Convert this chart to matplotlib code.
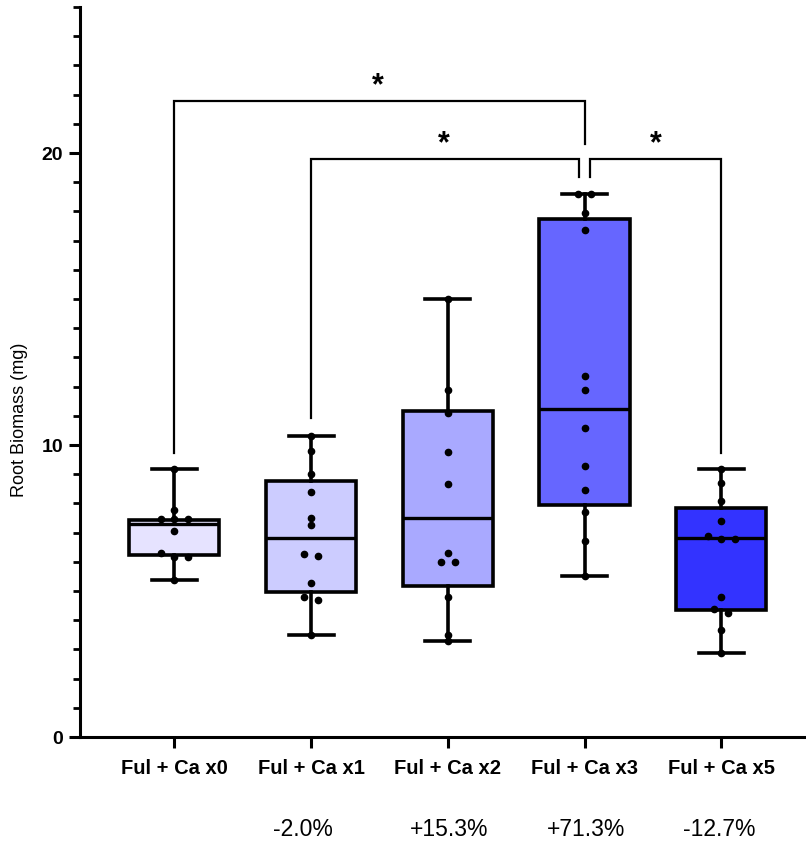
import matplotlib
matplotlib.use("Agg")
import matplotlib.pyplot as plt
import numpy as np
from matplotlib.ticker import MultipleLocator
import matplotlib.transforms as mtransforms

plt.rcParams['font.family'] = ['Liberation Sans', 'DejaVu Sans']

categories = ["Ful + Ca x0", "Ful + Ca x1", "Ful + Ca x2", "Ful + Ca x3", "Ful + Ca x5"]
pct_change = ["", "-2.0%", "+15.3%", "+71.3%", "-12.7%"]
colors = ["#E6E3FF", "#CCCCFF", "#A9A9FF", "#6666FF", "#3333FF"]

# box statistics (min, q1, median, q3, max)
whislo = [5.39, 3.50, 3.29, 5.50, 2.89]
q1 = [6.24, 4.98, 5.16, 7.96, 4.36]
med = [7.30, 6.81, 7.50, 11.24, 6.81]
q3 = [7.44, 8.78, 11.16, 17.74, 7.84]
whishi = [9.19, 10.30, 14.99, 18.59, 9.18]

# individual points
pts_x0 = [9.19, 7.79, 7.48, 7.48, 7.48, 7.07, 6.31, 6.17, 6.17, 5.39]
pts_x1 = [10.30, 9.79, 8.99, 8.38, 7.50, 7.27, 6.28, 6.19, 5.29, 4.81, 4.68, 3.50]
pts_x2 = [14.99, 11.90, 11.10, 9.77, 8.68, 6.29, 5.98, 5.98, 4.81, 3.50, 3.29]
pts_x3 = [18.59, 18.59, 17.96, 17.37, 12.38, 11.88, 10.59, 9.27, 8.47, 7.71, 6.70, 5.50]
pts_x5 = [9.18, 8.70, 8.07, 7.39, 6.87, 6.78, 6.78, 4.78, 4.38, 4.26, 3.67, 2.89]
points = [pts_x0, pts_x1, pts_x2, pts_x3, pts_x5]

# significance brackets: (left group, right group, top, left foot, right foot)
brackets = [
    (0.0, 3.0, 21.79, 9.74, 20.31),
    (1.0, 2.96, 19.79, 10.94, 19.18),
    (3.04, 4.0, 19.79, 19.18, 9.74),
]
star_pos = [(1.49, 22.3), (1.97, 20.3), (3.52, 20.3)]

fig = plt.figure(figsize=(8.06, 8.41), dpi=100)
ax = fig.add_axes([80/806, (841-737)/841, (806-80)/806, (737-7)/841])

x = np.arange(len(categories))
stats = []
for i in range(len(categories)):
    stats.append(dict(med=med[i], q1=q1[i], q3=q3[i], whislo=whislo[i], whishi=whishi[i], fliers=[]))

bp = ax.bxp(stats, positions=x, widths=0.66, patch_artist=True, showfliers=False,
            boxprops=dict(linewidth=2.6, edgecolor='black'),
            medianprops=dict(color='black', linewidth=2.4),
            whiskerprops=dict(color='black', linewidth=2.6),
            capprops=dict(color='black', linewidth=2.6),
            capwidths=0.33, manage_ticks=False)
for patch, c in zip(bp['boxes'], colors):
    patch.set_facecolor(c)


def swarm_offsets(vals, gap=0.2, step=0.1):
    order = np.argsort(vals)[::-1]
    offs = np.zeros(len(vals))
    groups = []
    cur = [order[0]]
    for k in order[1:]:
        if abs(vals[cur[-1]] - vals[k]) < gap:
            cur.append(k)
        else:
            groups.append(cur)
            cur = [k]
    groups.append(cur)
    for g in groups:
        n = len(g)
        for j, k in enumerate(g):
            offs[k] = (j - (n - 1) / 2) * step
    return offs

for i, vals in enumerate(points):
    vals = np.array(vals)
    offs = swarm_offsets(vals)
    ax.plot(x[i] + offs, vals, 'o', color='black', markersize=4.5, zorder=5)

# brackets
for (a, b, top, fa, fb) in brackets:
    ax.plot([a, a, b, b], [fa, top, top, fb], color='black', linewidth=1.6,
            solid_joinstyle='miter', zorder=4)
for (sx, sy) in star_pos:
    ax.text(sx, sy, "*", ha='center', va='center', fontsize=22, fontweight='bold')

ax.set_xlim(-0.69, 4.62)
ax.set_ylim(0, 25)
ax.spines['top'].set_visible(False)
ax.spines['right'].set_visible(False)
ax.spines['left'].set_linewidth(2.2)
ax.spines['bottom'].set_linewidth(2.2)

ax.set_yticks([0, 10, 20])
ax.yaxis.set_minor_locator(MultipleLocator(1))
ax.tick_params(axis='y', which='major', length=8, width=2.2, labelsize=14, pad=4)
ax.tick_params(axis='y', which='minor', length=5, width=2.0)
for lab in ax.get_yticklabels():
    lab.set_fontweight('bold')

ax.set_xticks(x)
ax.set_xticklabels(categories, fontsize=14.5, fontweight='bold')
ax.tick_params(axis='x', which='major', length=8, width=2.2, pad=8)

ax.set_ylabel("Root Biomass (mg)", fontsize=13)
ax.yaxis.set_label_coords(-0.072, 0.434)

trans = mtransforms.blended_transform_factory(ax.transData, fig.transFigure)
for i, p in enumerate(pct_change):
    if p:
        ax.text(x[i] - 0.278, 1 - 830/841, p, transform=trans, ha='left', va='center', fontsize=16.5)

fig.savefig("out.png", dpi=100)
